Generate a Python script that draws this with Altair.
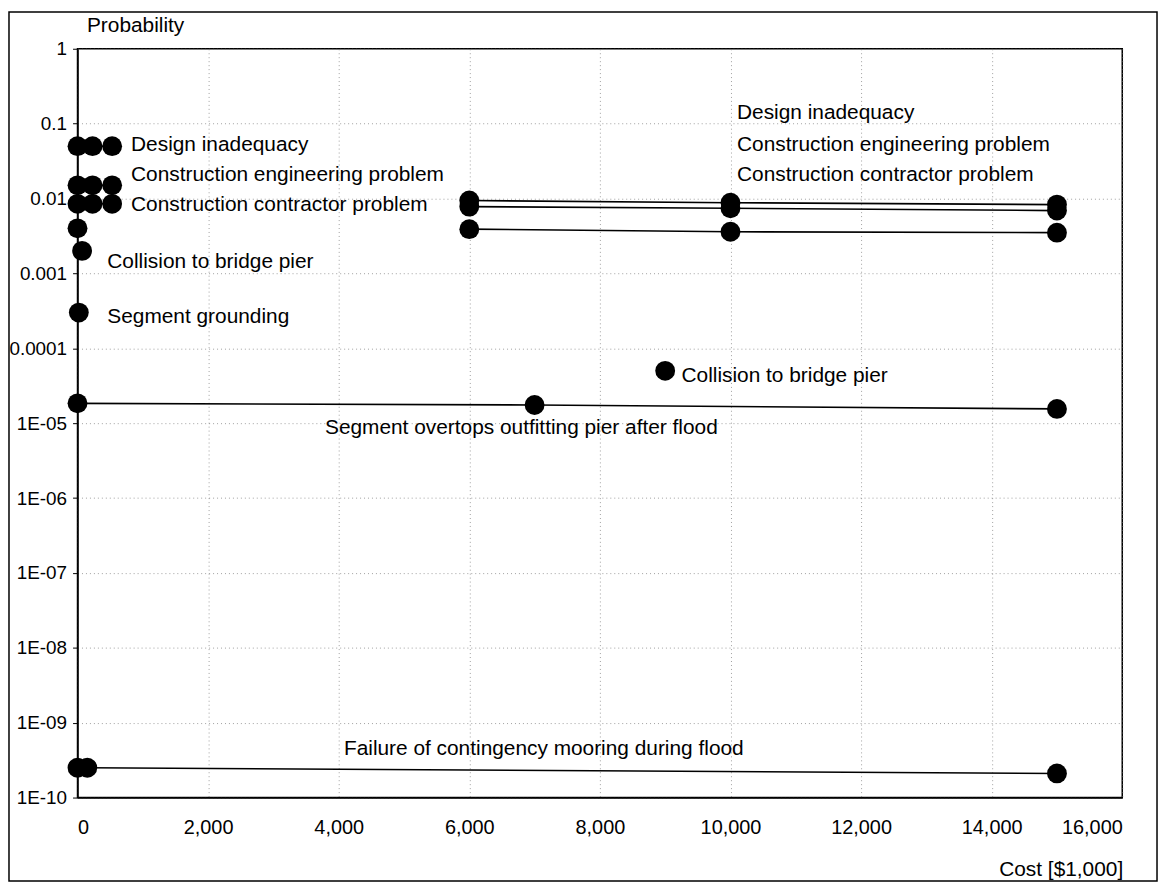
import altair as alt
import pandas as pd

# ---- data ----
series_names = [
    "Design inadequacy (A)", "Construction engineering problem (A)",
    "Construction contractor problem (A)", "Other (A)",
    "Collision to bridge pier (A)", "Segment grounding",
    "Design inadequacy (B)", "Construction engineering problem (B)",
    "Construction contractor problem (B)", "Collision to bridge pier (B)",
    "Segment overtops outfitting pier after flood",
    "Failure of contingency mooring during flood",
]
series_x = [
    [0, 230, 530], [0, 230, 530], [0, 230, 530], [0],
    [70], [20],
    [6000, 10000, 15000], [6000, 10000, 15000], [6000, 10000, 15000], [9000],
    [0, 7000, 15000],
    [0, 150, 15000],
]
series_y = [
    [0.05, 0.05, 0.05], [0.015, 0.015, 0.015], [0.0085, 0.0085, 0.0085], [0.004],
    [0.002], [0.0003],
    [0.0094, 0.0088, 0.0083], [0.0078, 0.0074, 0.0069], [0.0039, 0.0036, 0.0035],
    [5.0e-5],
    [1.84e-5, 1.75e-5, 1.55e-5],
    [2.5e-10, 2.5e-10, 2.1e-10],
]

label_text = [
    "Design inadequacy", "Construction engineering problem",
    "Construction contractor problem", "Collision to bridge pier",
    "Segment grounding", "Design inadequacy", "Construction engineering problem",
    "Construction contractor problem", "Collision to bridge pier",
    "Segment overtops outfitting pier after flood",
    "Failure of contingency mooring during flood",
]
label_x = [820, 820, 820, 456, 456, 10100, 10100, 10100, 9250, 3790, 4080]
label_y = [0.052, 0.0207, 0.0083, 0.0014, 0.00026, 0.137, 0.052, 0.0207,
           4.2e-5, 8.6e-6, 4.5e-10]

x_ticks = [0, 2000, 4000, 6000, 8000, 10000, 12000, 14000, 16000]
y_ticks = [1, 0.1, 0.01, 0.001, 0.0001, 1e-5, 1e-6, 1e-7, 1e-8, 1e-9, 1e-10]
y_tick_labels = ["1", "0.1", "0.01", "0.001", "0.0001", "1E-05", "1E-06",
                 "1E-07", "1E-08", "1E-09", "1E-10"]

rows = []
for name, xs, ys in zip(series_names, series_x, series_y):
    for i, (xv, yv) in enumerate(zip(xs, ys)):
        rows.append({"series": name, "cost": xv, "prob": yv, "order": i})
df = pd.DataFrame(rows)
labels = pd.DataFrame({"text": label_text, "cost": label_x, "prob": label_y})

W, H = 1052, 754
PAD = {"left": 70, "top": 38, "right": 37, "bottom": 86}
FONT = "Liberation Sans"

label_array = "[" + ",".join("'%s'" % s for s in y_tick_labels) + "]"

x_enc = alt.X("cost:Q",
              scale=alt.Scale(domain=[0, 16000], nice=False, zero=False),
              axis=alt.Axis(values=x_ticks, format=",d", title="Cost [$1,000]",
                            ticks=False, labelPadding=20, labelFontSize=20,
                            titleX=990, titleY=72, titleAlign="center",
                            titleBaseline="middle"))
y_enc = alt.Y("prob:Q",
              scale=alt.Scale(type="log", domain=[1e-10, 1], nice=False),
              axis=alt.Axis(values=y_ticks, title="Probability",
                            labelExpr=label_array + "[round(-log(datum.value)/LN10)]",
                            tickSize=5, labelPadding=6, labelFontSize=19,
                            titleAngle=0, titleX=9, titleY=-23,
                            titleAlign="left", titleBaseline="middle"))

base = alt.Chart(df)
lines = base.mark_line(color="black", strokeWidth=1.6).encode(
    x=x_enc, y=y_enc, detail="series:N", order="order:Q")
points = base.mark_circle(color="black", opacity=1, size=400).encode(
    x="cost:Q", y="prob:Q")
texts = alt.Chart(labels).mark_text(
    align="left", baseline="middle", font=FONT, fontSize=21, color="black"
).encode(x="cost:Q", y="prob:Q", text="text:N")

frame = alt.Chart(pd.DataFrame({"k": [0]})).mark_rect(
    fill=None, stroke="black", strokeWidth=1.5
).encode(
    x=alt.value(-PAD["left"] + 1), x2=alt.value(W + PAD["right"] - 2),
    y=alt.value(-PAD["top"] + 1), y2=alt.value(H + PAD["bottom"] - 2),
)

chart = alt.layer(lines, points, texts, frame).properties(
    width=W, height=H,
    autosize=alt.AutoSizeParams(type="none"),
    padding=PAD,
    background="white",
).configure_view(
    stroke="black", strokeWidth=1.5
).configure_axis(
    labelFont=FONT, titleFont=FONT, titleFontSize=21,
    labelColor="black", titleColor="black", titleFontWeight="normal",
    domainColor="black", domainWidth=1.5, tickColor="black",
    gridColor="#777777", gridDash=[1, 3], gridWidth=1, gridOpacity=0.7,
)

chart.save("out.html", embed_options={"renderer": "svg", "actions": False})
